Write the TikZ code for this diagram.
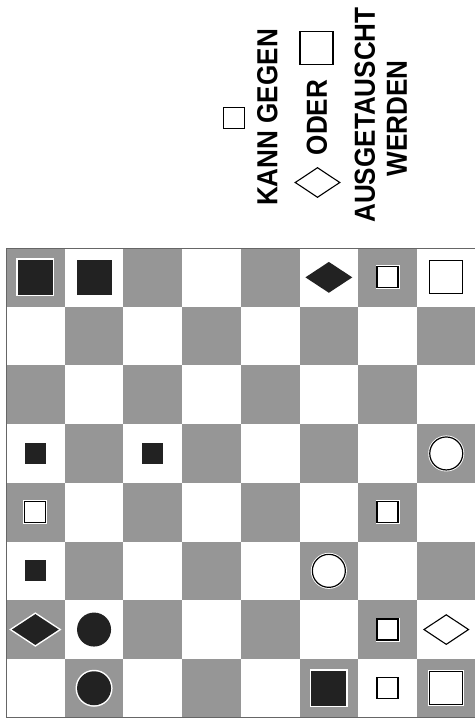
\documentclass[tikz,border=0pt]{standalone}
\usepackage{fontspec}
\usetikzlibrary{shapes.geometric}
\newfontfamily\legendfont[FakeStretch=0.9]{Liberation Sans}
\definecolor{sqgray}{RGB}{150,150,150}
\definecolor{pieceblk}{RGB}{34,34,34}

\begin{document}
\begin{tikzpicture}[
    x=1pt, y=-1pt,
    halo/.style={preaction={draw=white, line width=3pt}},
    bigblk/.style={rectangle, halo, fill=pieceblk, minimum size=35pt, inner sep=0},
    smlblk/.style={rectangle, halo, fill=pieceblk, minimum size=21pt, inner sep=0},
    bigwht/.style={rectangle, halo, draw=black, fill=white, line width=1.2pt, minimum size=33pt, inner sep=0},
    smlwht/.style={rectangle, halo, draw=black, fill=white, line width=1.2pt, minimum size=21pt, inner sep=0},
    blkdisc/.style={circle, halo, fill=pieceblk, minimum size=34pt, inner sep=0},
    whtdisc/.style={circle, halo, draw=black, fill=white, line width=1.2pt, minimum size=33pt, inner sep=0},
    blkdia/.style={diamond, halo, fill=pieceblk, minimum width=47pt, minimum height=31pt, inner sep=0},
    whtdia/.style={diamond, halo, draw=black, fill=white, line width=1.1pt, minimum width=45pt, minimum height=30pt, inner sep=0},
    legend/.style={rotate=90, inner sep=0, font=\legendfont\bfseries\fontsize{29}{31}\selectfont}
]
\useasboundingbox (0,0) rectangle (474,719);

% Legende
\node[smlwht, preaction={}] (leg1) at (234,118) {};
\node[legend] (kann) at (267.5,117.5) {KANN GEGEN};
\node[bigwht] (leg2) at (316.5,48) {};
\node[legend] (oder) at (317,117.5) {ODER};
\node[whtdia] (leg3) at (317.5,182.5) {};
\node[legend] (ausg) at (365,115) {AUSGETAUSCHT};
\node[legend] (werd) at (397,118.5) {WERDEN};

% Brett
\begin{scope}[shift={(6,248)}, x=58.7pt, y=-58.7pt]
\foreach \r in {0,...,7}
  \foreach \c in {0,...,7} {
    \ifodd\numexpr\r+\c\relax\else
      \fill[sqgray] (\c,\r) rectangle ++(1,1);
    \fi
  }
\draw[black!60, line width=0.8pt] (0,0) rectangle (8,8);

% Steine
\foreach \c/\r/\s in {0/0/bigblk, 1/0/bigblk, 5/0/blkdia, 6/0/smlwht, 7/0/bigwht,
    0/3/smlblk, 2/3/smlblk, 7/3/whtdisc,
    0/4/smlwht, 6/4/smlwht,
    0/5/smlblk, 5/5/whtdisc,
    0/6/blkdia, 1/6/blkdisc, 6/6/smlwht, 7/6/whtdia,
    1/7/blkdisc, 5/7/bigblk, 6/7/smlwht, 7/7/bigwht}
  \node[\s] (p\c\r) at (\c+0.5,\r+0.5) {};
\end{scope}

\end{tikzpicture}
\end{document}
